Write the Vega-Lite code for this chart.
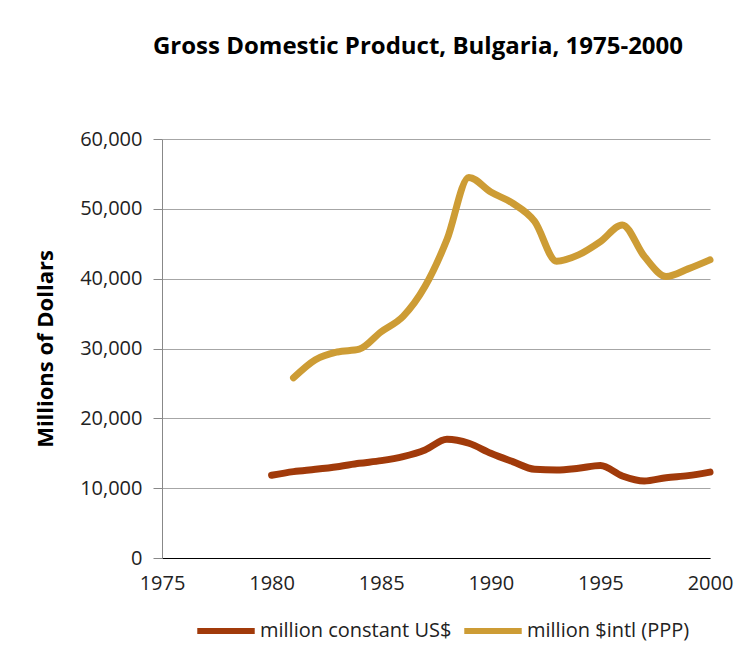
{
  "$schema": "https://vega.github.io/schema/vega-lite/v6.json",
  "autosize": {"type": "none"},
  "width": 548,
  "height": 419,
  "padding": {"left": 162, "top": 139, "right": 43, "bottom": 93},
  "background": "white",
  "title": {
    "text": "Gross Domestic Product, Bulgaria, 1975-2000",
    "font": "Open Sans",
    "fontSize": 24,
    "fontWeight": "bold",
    "color": "#000000",
    "anchor": "middle",
    "dx": -18,
    "offset": 70
  },
  "data": {
    "values": [
      {"year": 1980, "value": 11850, "series": "million constant US$"},
      {"year": 1981, "value": 12370, "series": "million constant US$"},
      {"year": 1982, "value": 12700, "series": "million constant US$"},
      {"year": 1983, "value": 13080, "series": "million constant US$"},
      {"year": 1984, "value": 13560, "series": "million constant US$"},
      {"year": 1985, "value": 13940, "series": "million constant US$"},
      {"year": 1986, "value": 14520, "series": "million constant US$"},
      {"year": 1987, "value": 15470, "series": "million constant US$"},
      {"year": 1988, "value": 17000, "series": "million constant US$"},
      {"year": 1989, "value": 16430, "series": "million constant US$"},
      {"year": 1990, "value": 15000, "series": "million constant US$"},
      {"year": 1991, "value": 13800, "series": "million constant US$"},
      {"year": 1992, "value": 12700, "series": "million constant US$"},
      {"year": 1993, "value": 12600, "series": "million constant US$"},
      {"year": 1994, "value": 12850, "series": "million constant US$"},
      {"year": 1995, "value": 13250, "series": "million constant US$"},
      {"year": 1996, "value": 11750, "series": "million constant US$"},
      {"year": 1997, "value": 11030, "series": "million constant US$"},
      {"year": 1998, "value": 11500, "series": "million constant US$"},
      {"year": 1999, "value": 11800, "series": "million constant US$"},
      {"year": 2000, "value": 12300, "series": "million constant US$"},
      {"year": 1981, "value": 25800, "series": "million $intl (PPP)"},
      {"year": 1982, "value": 28400, "series": "million $intl (PPP)"},
      {"year": 1983, "value": 29500, "series": "million $intl (PPP)"},
      {"year": 1984, "value": 29900, "series": "million $intl (PPP)"},
      {"year": 1985, "value": 32400, "series": "million $intl (PPP)"},
      {"year": 1986, "value": 34600, "series": "million $intl (PPP)"},
      {"year": 1987, "value": 38900, "series": "million $intl (PPP)"},
      {"year": 1988, "value": 45600, "series": "million $intl (PPP)"},
      {"year": 1989, "value": 54500, "series": "million $intl (PPP)"},
      {"year": 1990, "value": 52400, "series": "million $intl (PPP)"},
      {"year": 1991, "value": 50800, "series": "million $intl (PPP)"},
      {"year": 1992, "value": 48200, "series": "million $intl (PPP)"},
      {"year": 1993, "value": 42500, "series": "million $intl (PPP)"},
      {"year": 1994, "value": 43400, "series": "million $intl (PPP)"},
      {"year": 1995, "value": 45300, "series": "million $intl (PPP)"},
      {"year": 1996, "value": 47700, "series": "million $intl (PPP)"},
      {"year": 1997, "value": 43200, "series": "million $intl (PPP)"},
      {"year": 1998, "value": 40300, "series": "million $intl (PPP)"},
      {"year": 1999, "value": 41400, "series": "million $intl (PPP)"},
      {"year": 2000, "value": 42700, "series": "million $intl (PPP)"}
    ]
  },
  "mark": {"type": "line", "interpolate": "monotone", "strokeWidth": 7, "strokeCap": "round", "strokeJoin": "round"},
  "encoding": {
    "x": {
      "field": "year",
      "type": "quantitative",
      "scale": {"domain": [1975, 2000], "nice": false, "zero": false},
      "axis": {
        "title": null,
        "values": [1975, 1980, 1985, 1990, 1995, 2000],
        "format": "d",
        "grid": false,
        "ticks": false,
        "domainColor": "#000000",
        "domainWidth": 1,
        "labelFont": "Open Sans",
        "labelFontSize": 20,
        "labelColor": "#222222",
        "labelPadding": 15,
        "labelFlush": false
      }
    },
    "y": {
      "field": "value",
      "type": "quantitative",
      "scale": {"domain": [0, 60000], "nice": false},
      "axis": {
        "title": "Millions of Dollars",
        "titleFont": "Open Sans",
        "titleFontSize": 22,
        "titleFontWeight": "bold",
        "titleColor": "#000000",
        "titlePadding": 22,
        "values": [0, 10000, 20000, 30000, 40000, 50000, 60000],
        "format": ",d",
        "grid": true,
        "gridColor": "#a6a6a6",
        "gridWidth": 1,
        "domainColor": "#888888",
        "tickColor": "#888888",
        "tickSize": 9,
        "labelFont": "Open Sans",
        "labelFontSize": 20,
        "labelColor": "#222222",
        "labelPadding": 11
      }
    },
    "color": {
      "field": "series",
      "type": "nominal",
      "scale": {
        "domain": ["million constant US$", "million $intl (PPP)"],
        "range": ["#a13a0a", "#cd9c35"]
      },
      "legend": {
        "title": null,
        "orient": "none",
        "legendX": 32,
        "legendY": 460,
        "direction": "horizontal",
        "symbolType": "stroke",
        "symbolSize": 3300,
        "symbolStrokeWidth": 6,
        "labelFont": "Open Sans",
        "labelFontSize": 20,
        "labelColor": "#222222",
        "labelOffset": 2,
        "labelLimit": 400,
        "columnPadding": 0
      }
    }
  },
  "config": {
    "view": {"stroke": null},
    "axisX": {"domainColor": "#000000"}
  }
}
